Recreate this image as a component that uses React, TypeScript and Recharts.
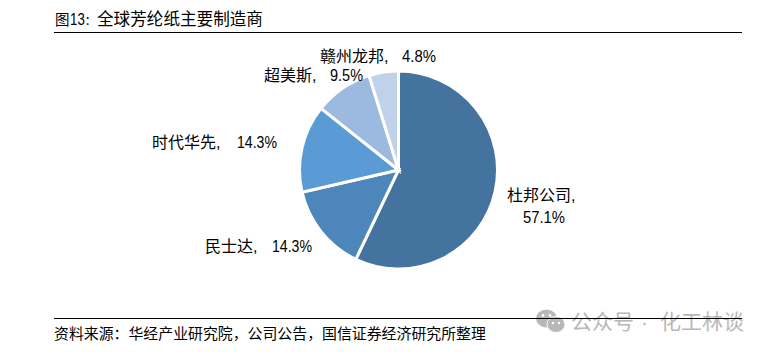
import { Cell, Pie, PieChart } from "recharts";

const makers = ["杜邦公司", "民士达", "时代华先", "超美斯", "赣州龙邦"];
const shares = [57.1, 14.3, 14.3, 9.5, 4.8];
const shareLabels = ["57.1%", "14.3%", "14.3%", "9.5%", "4.8%"];
const sliceColors = ["#44739f", "#4c86bb", "#5b9bd5", "#9cbae0", "#c0d1ea"];

const rows = makers.map((name, i) => ({ name, value: shares[i] }));

const FONT = '"Liberation Sans", "Noto Sans CJK SC", sans-serif';

// label spots, hand placed like the original. pctX/pctW squeeze the numbers
const labelSpots = [
  { x: 507, y: 201, pctX: 523, pctY: 223, pctW: 42 },
  { x: 205, y: 252, pctX: 272, pctY: 252, pctW: 40 },
  { x: 152, y: 148, pctX: 237, pctY: 148, pctW: 40 },
  { x: 264, y: 81, pctX: 330, pctY: 81, pctW: 33 },
  { x: 320, y: 62, pctX: 402, pctY: 62, pctW: 34 },
];

function SliceLabel({ index }: { index?: number }) {
  const i = index ?? 0;
  const spot = labelSpots[i];
  return (
    <g fontFamily={FONT} fontSize={16} fill="#000">
      <text x={spot.x} y={spot.y}>
        {makers[i]},
      </text>
      <text x={spot.pctX} y={spot.pctY} textLength={spot.pctW} lengthAdjust="spacingAndGlyphs">
        {shareLabels[i]}
      </text>
    </g>
  );
}

const markStyle = {
  position: "absolute" as const,
  top: 0,
  fontFamily: FONT,
  fontSize: 21,
  lineHeight: "26px",
  color: "#b8b8b8",
  whiteSpace: "nowrap" as const,
};

function Watermark() {
  return (
    <div style={{ position: "absolute", left: 536, top: 309, width: 215, height: 26 }}>
      <svg width={30} height={26} style={{ position: "absolute", left: 0, top: 0 }}>
        <ellipse cx={10.5} cy={9.5} rx={10.5} ry={9} fill="#b8b8b8" />
        <ellipse cx={20} cy={15.5} rx={9} ry={8} fill="#b8b8b8" stroke="#fff" strokeWidth={1} />
        <circle cx={7} cy={6.5} r={1.4} fill="#fff" />
        <circle cx={14} cy={6.5} r={1.4} fill="#fff" />
        <circle cx={17} cy={14} r={1.2} fill="#fff" />
        <circle cx={23} cy={14} r={1.2} fill="#fff" />
      </svg>
      <span style={{ ...markStyle, left: 35 }}>公众号</span>
      <span style={{ ...markStyle, left: 105 }}>·</span>
      <span style={{ ...markStyle, left: 124 }}>化工林谈</span>
    </div>
  );
}

export default function App() {
  return (
    <div style={{ position: "absolute", left: 0, top: 0, width: 769, height: 352, background: "#fff", overflow: "hidden" }}>
      <PieChart width={769} height={352} margin={{ top: 0, right: 0, bottom: 0, left: 0 }}>
        <Pie
          data={rows}
          dataKey="value"
          nameKey="name"
          cx={398.5}
          cy={170}
          innerRadius={0}
          outerRadius={99}
          startAngle={90}
          endAngle={-270}
          stroke="#fff"
          strokeWidth={3}
          labelLine={false}
          label={SliceLabel}
          isAnimationActive={false}
        >
          {rows.map((row, i) => (
            <Cell key={row.name} fill={sliceColors[i]} />
          ))}
        </Pie>
      </PieChart>
      <div style={{ position: "absolute", left: 55, top: 9, fontFamily: FONT, fontSize: 16.6, lineHeight: "22px", color: "#000", whiteSpace: "nowrap" }}>
        <span style={{ fontSize: 14.5 }}>图</span>
        <span style={{ display: "inline-block", width: 15, transform: "scaleX(0.8)", transformOrigin: "left" }}>13</span>
        <span style={{ fontSize: 12.5 }}>：</span>
        全球芳纶纸主要制造商
      </div>
      <div style={{ position: "absolute", left: 54, top: 32, width: 688, height: 1, background: "#000" }} />
      <Watermark />
      <div style={{ position: "absolute", left: 54, top: 318, width: 688, height: 1, background: "#000" }} />
      <div style={{ position: "absolute", left: 54, top: 324, fontFamily: FONT, fontSize: 14.9, lineHeight: "20px", color: "#000", whiteSpace: "nowrap" }}>
        资料来源：华经产业研究院，公司公告，国信证券经济研究所整理
      </div>
    </div>
  );
}
